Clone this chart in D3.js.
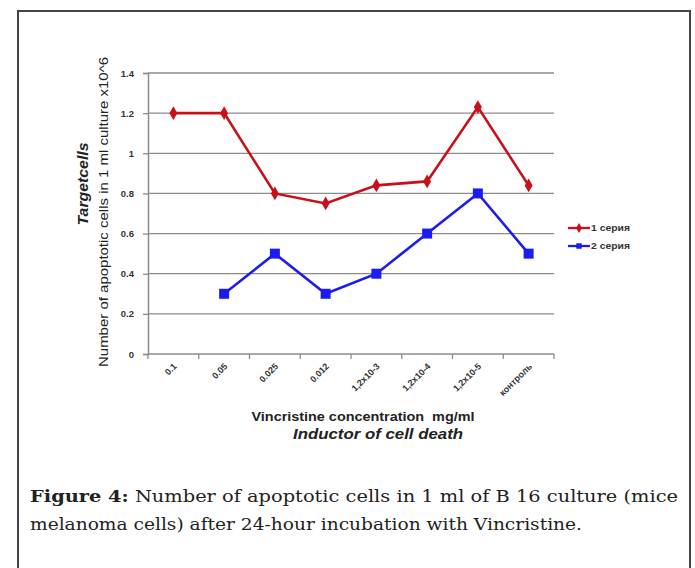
<!DOCTYPE html>
<html>
<head>
<meta charset="utf-8">
<script src="https://cdnjs.cloudflare.com/ajax/libs/d3/7.8.5/d3.min.js"></script>
<style>
	body { margin: 0; background: #fff; }
	svg { display: block; }
</style>
</head>
<body>
<svg id="chart" width="695" height="568"></svg>
<script>
var categories = ["0.1", "0.05", "0.025", "0.012", "1,2x10-3", "1,2x10-4", "1,2x10-5", "контроль"];
var series1 = [1.2, 1.2, 0.8, 0.75, 0.84, 0.86, 1.23, 0.84];
var series2 = [null, 0.3, 0.5, 0.3, 0.4, 0.6, 0.8, 0.5];
var seriesNames = ["1 серия", "2 серия"];
var yTicks = [0, 0.2, 0.4, 0.6, 0.8, 1, 1.2, 1.4];

var svg = d3.select("#chart");
var sans = "Liberation Sans, Arial, sans-serif";

// frame round the figure
svg.append("rect")
	.attr("x", 18).attr("y", 11)
	.attr("width", 672).attr("height", 600)
	.attr("fill", "none").attr("stroke", "#444").attr("stroke-width", 2);

var plotLeft = 148, plotRight = 554, plotTop = 73, plotBottom = 354;

var x = d3.scaleBand().domain(categories).range([plotLeft, plotRight]);
var y = d3.scaleLinear().domain([0, 1.4]).range([plotBottom, plotTop]);

// gridlines
svg.append("g").selectAll("line")
	.data(yTicks.filter(d => d > 0))
	.enter().append("line")
		.attr("x1", plotLeft).attr("x2", plotRight)
		.attr("y1", d => y(d)).attr("y2", d => y(d))
		.attr("stroke", "#8c8c8c").attr("stroke-width", 1.3);

// y axis
var yAxis = svg.append("g")
	.attr("transform", "translate(" + plotLeft + ",0)")
	.call(d3.axisLeft(y).tickValues(yTicks).tickSize(5).tickPadding(9)
		.tickFormat(d => d === 0 || d === 1 ? d3.format("d")(d) : d3.format(".1f")(d)));
yAxis.select(".domain").attr("stroke", "#8c8c8c").attr("stroke-width", 1.5);
yAxis.selectAll(".tick line").attr("stroke", "#8c8c8c").attr("stroke-width", 1.3);
yAxis.selectAll("text")
	.attr("font-family", sans)
	.attr("font-size", 9.5).attr("font-weight", "bold").attr("fill", "#333");

// x axis (ticks between categories)
var xAxis = svg.append("g").attr("transform", "translate(0," + plotBottom + ")");
xAxis.append("line")
	.attr("x1", plotLeft).attr("x2", plotRight)
	.attr("stroke", "#8c8c8c").attr("stroke-width", 1.5);
xAxis.selectAll(".tk")
	.data(categories.concat(["end"]))
	.enter().append("line")
		.attr("class", "tk")
		.attr("x1", (d, i) => plotLeft + i * x.bandwidth())
		.attr("x2", (d, i) => plotLeft + i * x.bandwidth())
		.attr("y1", 0).attr("y2", 5)
		.attr("stroke", "#8c8c8c").attr("stroke-width", 1.3);
xAxis.selectAll(".lbl")
	.data(categories)
	.enter().append("text")
		.attr("class", "lbl")
		.attr("transform", d => "translate(" + (x(d) + x.bandwidth() / 2 + 4) + ",13) rotate(-45)")
		.attr("text-anchor", "end")
		.attr("font-family", sans)
		.attr("font-size", 9).attr("font-weight", "bold").attr("fill", "#333")
		.text(d => d);

// lines
var cx = d => x(d) + x.bandwidth() / 2;

function drawSeries(values, color, shape, size) {
	var pts = categories.map((c, i) => ({c: c, v: values[i]})).filter(p => p.v !== null);
	var line = d3.line().x(p => cx(p.c)).y(p => y(p.v));
	svg.append("path")
		.datum(pts)
		.attr("d", line)
		.attr("fill", "none").attr("stroke", color).attr("stroke-width", 2.6);
	svg.append("g").selectAll("path")
		.data(pts)
		.enter().append("path")
			.attr("transform", p => "translate(" + cx(p.c) + "," + y(p.v) + ")")
			.attr("d", d3.symbol().type(shape).size(size))
			.attr("fill", color);
}
drawSeries(series1, "#c8101a", d3.symbolDiamond, 55);
drawSeries(series2, "#1c1cf0", d3.symbolSquare, 100);

// legend
var legend = svg.append("g").attr("transform", "translate(568,228)");
[{c: "#c8101a", s: d3.symbolDiamond, z: 30}, {c: "#1c1cf0", s: d3.symbolSquare, z: 30}].forEach(function(l, i) {
	var g = legend.append("g").attr("transform", "translate(0," + i * 18 + ")");
	g.append("line").attr("x1", 0).attr("x2", 22).attr("stroke", l.c).attr("stroke-width", 2.3);
	g.append("path").attr("transform", "translate(11,0)").attr("d", d3.symbol().type(l.s).size(l.z)).attr("fill", l.c);
	g.append("text").attr("x", 23).attr("y", 3)
		.attr("font-family", sans)
		.attr("font-size", 8.5).attr("font-weight", "bold").attr("fill", "#333")
		.attr("textLength", 39).attr("lengthAdjust", "spacingAndGlyphs")
		.text(seriesNames[i]);
});

// axis titles
svg.append("text")
	.attr("transform", "translate(108,212) rotate(-90)")
	.attr("text-anchor", "middle")
	.attr("font-family", sans)
	.attr("font-size", 12.5).attr("fill", "#222")
	.attr("textLength", 310).attr("lengthAdjust", "spacingAndGlyphs")
	.text("Number of apoptotic cells in 1 ml culture x10^6");
svg.append("text")
	.attr("transform", "translate(88,184) rotate(-90)")
	.attr("text-anchor", "middle")
	.attr("font-family", sans)
	.attr("font-size", 14.5).attr("font-weight", "bold").attr("font-style", "italic").attr("fill", "#222")
	.attr("textLength", 83).attr("lengthAdjust", "spacingAndGlyphs")
	.text("Targetcells");
svg.append("text")
	.attr("x", 363).attr("y", 421)
	.attr("text-anchor", "middle")
	.attr("font-family", sans)
	.attr("font-size", 12).attr("font-weight", "bold").attr("fill", "#222")
	.attr("xml:space", "preserve")
	.attr("textLength", 223).attr("lengthAdjust", "spacingAndGlyphs")
	.text("Vincristine concentration  mg/ml");
svg.append("text")
	.attr("x", 378).attr("y", 439)
	.attr("text-anchor", "middle")
	.attr("font-family", sans)
	.attr("font-size", 14.5).attr("font-weight", "bold").attr("font-style", "italic").attr("fill", "#222")
	.attr("textLength", 170).attr("lengthAdjust", "spacingAndGlyphs")
	.text("Inductor of cell death");

// caption
var cap1 = svg.append("text")
	.attr("x", 30).attr("y", 502)
	.attr("font-family", "DejaVu Serif, serif")
	.attr("font-size", 16.5).attr("fill", "#222")
	.attr("textLength", 648).attr("lengthAdjust", "spacingAndGlyphs");
cap1.append("tspan").attr("font-weight", "bold").text("Figure 4:");
cap1.append("tspan").text(" Number of apoptotic cells in 1 ml of  В 16 culture (mice");
svg.append("text")
	.attr("x", 30).attr("y", 530)
	.attr("font-family", "DejaVu Serif, serif")
	.attr("font-size", 16.5).attr("fill", "#222")
	.attr("textLength", 552).attr("lengthAdjust", "spacingAndGlyphs")
	.text("melanoma cells) after 24-hour incubation with Vincristine.");
</script>
</body>
</html>
